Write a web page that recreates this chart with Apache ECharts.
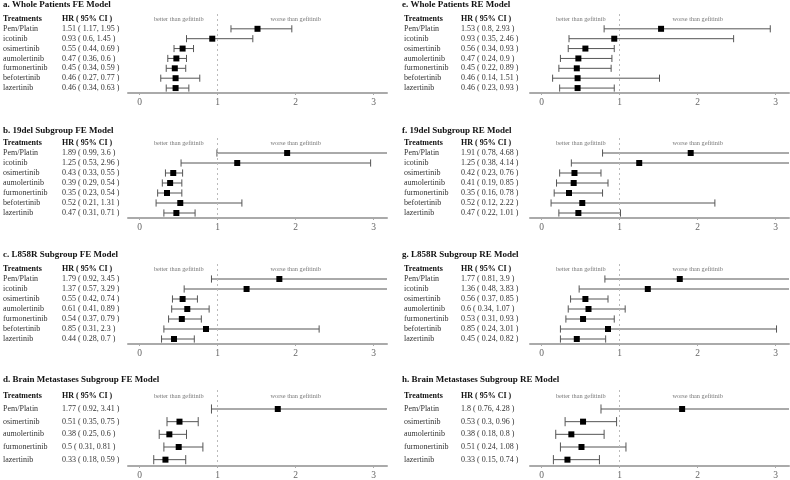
<!DOCTYPE html>
<html>
<head>
<meta charset="utf-8">
<title>forest plots</title>
<script src="https://cdn.jsdelivr.net/npm/echarts@6/dist/echarts.min.js"></script>
<style>
html,body{margin:0;padding:0;background:#fff}
#main{width:790px;height:480px}
</style>
</head>
<body>
<div id="main"></div>
<script>
//------------------ data -------------
var names7 = ['Pem/Platin','icotinib','osimertinib','aumolertinib','furmonertinib','befotertinib','lazertinib'];
var names5 = ['Pem/Platin','osimertinib','aumolertinib','furmonertinib','lazertinib'];
var panelTitles = [
	'a. Whole Patients FE Model','b. 19del Subgroup FE Model','c. L858R Subgroup FE Model','d. Brain Metastases Subgroup FE Model',
	'e. Whole Patients RE Model','f. 19del Subgroup RE Model','g. L858R Subgroup RE Model','h. Brain Metastases Subgroup RE Model'
];
var noteText = ['better than gefitinib','worse than gefitinib'];
var noteX = [0.5, 2];
var tickValues = [0, 1, 2, 3];

// a. whole FE
var hrA = [1.51,0.93,0.55,0.47,0.45,0.46,0.46];
var loA = [1.17,0.6,0.44,0.36,0.34,0.27,0.34];
var hiA = [1.95,1.45,0.69,0.6,0.59,0.77,0.63];
// b. 19del FE
var hrB = [1.89,1.25,0.43,0.39,0.35,0.52,0.47];
var loB = [0.99,0.53,0.33,0.29,0.23,0.21,0.31];
var hiB = [3.6,2.96,0.55,0.54,0.54,1.31,0.71];
// c. L858R FE
var hrC = [1.79,1.37,0.55,0.61,0.54,0.85,0.44];
var loC = [0.92,0.57,0.42,0.41,0.37,0.31,0.28];
var hiC = [3.45,3.29,0.74,0.89,0.79,2.3,0.7];
// d. brain FE
var hrD = [1.77,0.51,0.38,0.5,0.33];
var loD = [0.92,0.35,0.25,0.31,0.18];
var hiD = [3.41,0.75,0.6,0.81,0.59];
// e. whole RE
var hrE = [1.53,0.93,0.56,0.47,0.45,0.46,0.46];
var loE = [0.8,0.35,0.34,0.24,0.22,0.14,0.23];
var hiE = [2.93,2.46,0.93,0.9,0.89,1.51,0.93];
// f. 19del RE
var hrF = [1.91,1.25,0.42,0.41,0.35,0.52,0.47];
var loF = [0.78,0.38,0.23,0.19,0.16,0.12,0.22];
var hiF = [4.68,4.14,0.76,0.85,0.78,2.22,1.01];
// g. L858R RE
var hrG = [1.77,1.36,0.56,0.6,0.53,0.85,0.45];
var loG = [0.81,0.48,0.37,0.34,0.31,0.24,0.24];
var hiG = [3.9,3.83,0.85,1.07,0.93,3.01,0.82];
// h. brain RE
var hrH = [1.8,0.53,0.38,0.51,0.33];
var loH = [0.76,0.3,0.18,0.24,0.15];
var hiH = [4.28,0.96,0.8,1.08,0.74];

//------------------ layout -------------
var SERIF = 'Liberation Serif';
var colLeft = [128, 530];      // grid left for the two columns
var labelMargin = [125, 126];  // distance from grid to table text
var nameWidth = [59, 57];
var gridWidth = 259;
var rowTop = [14, 138, 264, 390];
var rowHeight = [79, 80, 80, 79];
var titleTop = [0, 126, 250, 375];
var titleLeft = [3, 402];

var panels = [
	{names: names7, hr: hrA, lo: loA, hi: hiA},
	{names: names7, hr: hrB, lo: loB, hi: hiB},
	{names: names7, hr: hrC, lo: loC, hi: hiC},
	{names: names5, hr: hrD, lo: loD, hi: hiD},
	{names: names7, hr: hrE, lo: loE, hi: hiE},
	{names: names7, hr: hrF, lo: loF, hi: hiF},
	{names: names7, hr: hrG, lo: loG, hi: hiG},
	{names: names5, hr: hrH, lo: loH, hi: hiH}
];

// shallow merge of two style objects
function mergeStyle(a, b) {
	var o = {}, k;
	for (k in a) o[k] = a[k];
	for (k in b) o[k] = b[k];
	return o;
}

// 误差线: 横线 + 两端短竖线, 超出坐标系的部分截掉
function renderCI(params, api) {
	var cs = params.coordSys;
	var row = api.value(1);
	var y = api.coord([0, row])[1];
	var band = api.size([0, 1])[1];
	var xl = api.coord([api.value(2), row])[0];
	var xh = api.coord([api.value(3), row])[0];
	var right = cs.x + cs.width;
	var cap = band * 0.36;
	var st = {stroke: '#555', lineWidth: 1};
	var kids = [
		{type: 'line', shape: {x1: xl, y1: y, x2: Math.min(xh, right), y2: y}, style: st},
		{type: 'line', shape: {x1: xl, y1: y - cap, x2: xl, y2: y + cap}, style: st}
	];
	if (xh <= right) {
		kids.push({type: 'line', shape: {x1: xh, y1: y - cap, x2: xh, y2: y + cap}, style: st});
	}
	return {type: 'group', children: kids};
}

var titles = [], grids = [], xAxes = [], yAxes = [], series = [];

for (var p = 0; p < panels.length; p++) {
	var col = p < 4 ? 0 : 1;
	var r = p % 4;
	var pan = panels[p];

	titles.push({
		text: panelTitles[p], left: titleLeft[col], top: titleTop[r], padding: 0,
		textStyle: {fontFamily: SERIF, fontSize: 9, fontWeight: 'bold', color: '#111'}
	});
	grids.push({left: colLeft[col], top: rowTop[r], width: gridWidth, height: rowHeight[r]});

	xAxes.push({
		gridIndex: p, type: 'value', min: -0.15, max: 3.17,
		splitLine: {show: false},
		axisLine: {show: true, lineStyle: {color: '#aaa', width: 2}},
		axisTick: {show: true, customValues: tickValues, length: 2, lineStyle: {color: '#aaa'}},
		axisLabel: {customValues: tickValues, margin: 4, color: '#666', fontFamily: SERIF, fontSize: 9.5}
	});

	// 表格文字: 表头 + 每行的药名和 HR(95% CI)
	var cats = ['hdr'];
	var tableRows = ['{hn|Treatments}{hh|HR ( 95% CI )}'];
	for (var i = 0; i < pan.names.length; i++) {
		cats.push(pan.names[i]);
		tableRows.push('{n|' + pan.names[i] + '}{h|' + pan.hr[i] + ' ( ' + pan.lo[i] + ', ' + pan.hi[i] + ' )}');
	}
	var base = {fontFamily: SERIF, fontSize: 8, color: '#333'};
	yAxes.push({
		gridIndex: p, type: 'category', inverse: true, data: cats,
		axisLine: {show: false}, axisTick: {show: false}, splitLine: {show: false},
		axisLabel: {
			interval: 0, align: 'left', margin: labelMargin[col],
			formatter: (function (rows) { return function (v, idx) { return rows[idx]; }; })(tableRows),
			rich: {
				n: mergeStyle(base, {width: nameWidth[col]}),
				h: mergeStyle(base, {}),
				hn: mergeStyle(base, {width: nameWidth[col], fontWeight: 'bold', color: '#111'}),
				hh: mergeStyle(base, {fontWeight: 'bold', color: '#111'})
			}
		}
	});

	var ciData = [], ptData = [];
	for (var j = 0; j < pan.hr.length; j++) {
		ciData.push([pan.hr[j], j + 1, pan.lo[j], pan.hi[j]]);
		ptData.push([pan.hr[j], j + 1]);
	}
	series.push({
		type: 'custom', xAxisIndex: p, yAxisIndex: p, silent: true,
		renderItem: renderCI, encode: {x: [0, 2, 3], y: 1}, data: ciData, z: 2
	});
	series.push({
		type: 'scatter', xAxisIndex: p, yAxisIndex: p, silent: true,
		symbol: 'rect', symbolSize: 6, itemStyle: {color: '#000', opacity: 1}, data: ptData, z: 3,
		markLine: {
			silent: true, symbol: ['none', 'none'], label: {show: false},
			lineStyle: {color: '#bbb', type: [2, 3], width: 1},
			data: [{xAxis: 1}]
		}
	});
	series.push({
		type: 'scatter', xAxisIndex: p, yAxisIndex: p, silent: true, symbolSize: 0,
		data: [[noteX[0], 0, noteText[0]], [noteX[1], 0, noteText[1]]],
		label: {
			show: true, position: 'inside', color: '#555', fontFamily: SERIF, fontSize: 6.3,
			formatter: function (prm) { return prm.data[2]; }
		}
	});
}

var myChart = echarts.init(document.getElementById('main'), null, {renderer: 'canvas'});
myChart.setOption({
	animation: false,
	backgroundColor: '#fff',
	title: titles,
	grid: grids,
	xAxis: xAxes,
	yAxis: yAxes,
	series: series
});
</script>
</body>
</html>
